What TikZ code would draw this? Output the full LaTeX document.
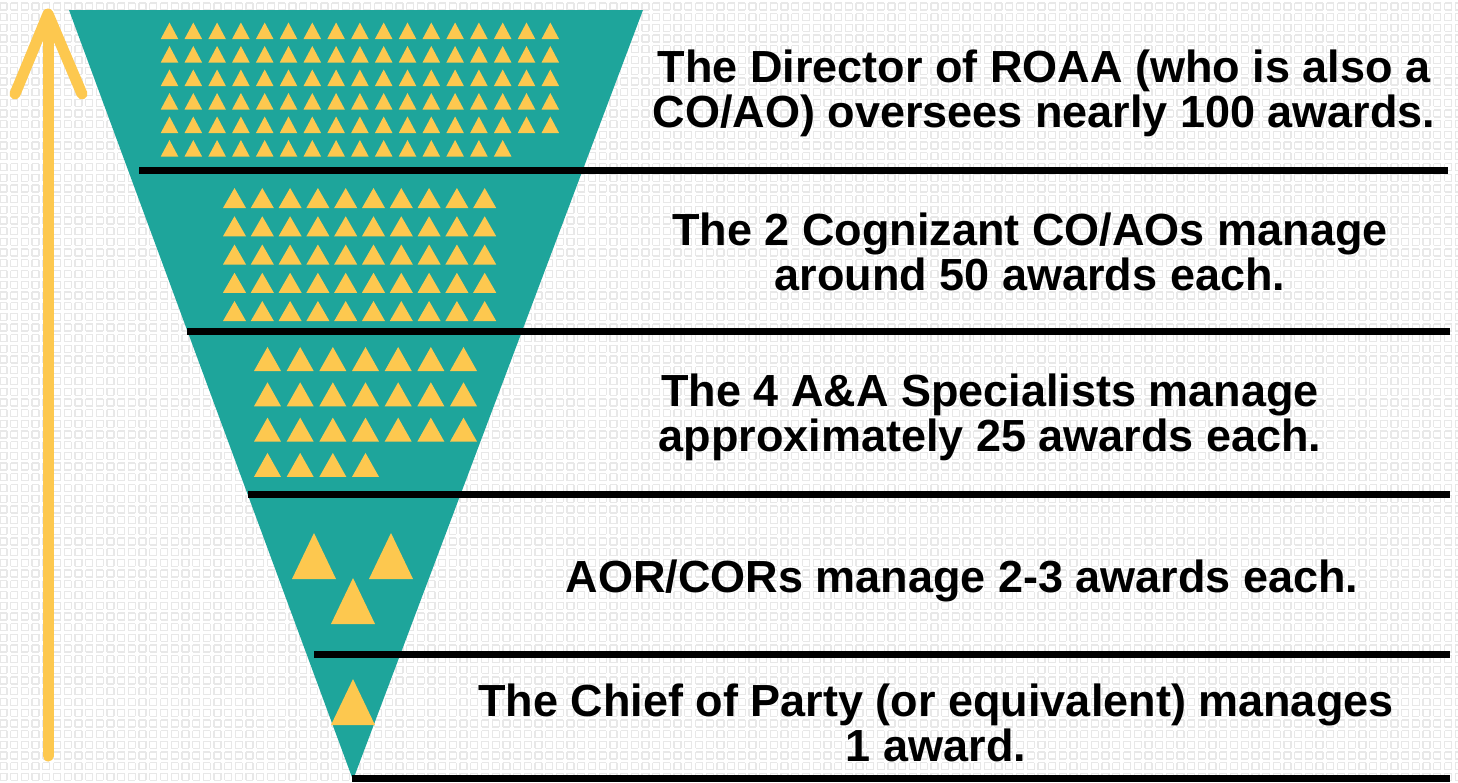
\documentclass[tikz,border=0pt]{standalone}
\usepackage{fontspec}
\setmainfont{Liberation Sans}
\definecolor{teal1}{HTML}{1EA59B}
\definecolor{gold1}{HTML}{FDC84F}
\definecolor{patgray}{HTML}{E8E8E8}
\tikzset{
  bgh/.style={draw=patgray,line width=1.3pt,dash pattern=on 7pt off 3.7pt},
  bgv/.style={draw=patgray,line width=1.3pt,dash pattern=on 7pt off 3.7pt,dash phase=7.7pt},
  sepline/.style={draw=black,line width=7pt},
  lbl/.style={font=\bfseries\fontsize{45}{46}\selectfont,inner sep=0pt,anchor=base,text=black},
  arrowline/.style={draw=gold1,line width=11pt,line cap=round,line join=round}
}
\newcommand{\ytri}[4]{\fill[gold1] ({#1-#3/2},#2) -- ({#1+#3/2},#2) -- (#1,{#2-#4}) -- cycle;}
\begin{document}
\begin{tikzpicture}[x=1pt,y=-1pt]
\useasboundingbox (0,0) rectangle (1458,782);
\fill[white] (0,0) rectangle (1458,782);
% background pattern
\begin{scope}
\clip (0,0) rectangle (1458,782);
\foreach \r in {0,...,73} {
  \draw[bgh] (0,{3+10.7*\r}) -- (1458,{3+10.7*\r});
  \draw[bgh] (0,{10+10.7*\r}) -- (1458,{10+10.7*\r});
}
\foreach \c in {0,...,136} {
  \draw[bgv] ({10.7*\c},0) -- ({10.7*\c},782);
  \draw[bgv] ({10.7*\c+7},0) -- ({10.7*\c+7},782);
}
\end{scope}
% arrow
\draw[arrowline] (48,756) -- (48,16);
\draw[arrowline] (15,94) -- (48,14) -- (82,94);
% funnel
\fill[teal1] (69,10) -- (643,10) -- (353,780) -- cycle;
% section 1 triangles
\foreach \j in {0,...,4} {
  \foreach \i in {0,...,16} { \ytri{169.5+23.8*\i}{39+23.5*\j}{17.5}{16.5} }
}
\foreach \i in {0,...,14} { \ytri{169.5+23.8*\i}{156.5}{17.5}{16.5} }
% section 2
\foreach \j in {0,...,4} {
  \foreach \i in {0,...,9} { \ytri{234.5+27.8*\i}{208+28.25*\j}{23}{20} }
}
% section 3
\foreach \j in {0,...,2} {
  \foreach \i in {0,...,6} { \ytri{267.5+32.67*\i}{371+35.3*\j}{27}{24} }
}
\foreach \i in {0,...,3} { \ytri{267.5+32.67*\i}{476.9}{27}{24} }
% section 4
\ytri{314}{579}{44}{46}
\ytri{391}{579}{44}{46}
\ytri{353}{624}{44}{46}
% section 5
\ytri{353}{725}{44}{46}
% separator lines
\draw[sepline] (139,170) -- (1448,170);
\draw[sepline] (187,331) -- (1450,331);
\draw[sepline] (248,494) -- (1450,494);
\draw[sepline] (314,654) -- (1450,654);
\draw[sepline] (352,778.5) -- (1450,778.5);
% labels
\node[lbl] (t1a) at (1044,82) {The Director of ROAA (who is also a};
\node[lbl] (t1b) at (1044,127) {CO/AO) oversees nearly 100 awards.};
\node[lbl] (t2a) at (1030,245) {The 2 Cognizant CO/AOs manage};
\node[lbl] (t2b) at (1030,290) {around 50 awards each.};
\node[lbl] (t3a) at (990,406) {The 4 A\&A Specialists manage};
\node[lbl] (t3b) at (990,451) {approximately 25 awards each.};
\node[lbl] (t4) at (962,592) {AOR/CORs manage 2-3 awards each.};
\node[lbl] (t5a) at (936,716) {The Chief of Party (or equivalent) manages};
\node[lbl] (t5b) at (936,761) {1 award.};
\end{tikzpicture}
\end{document}
